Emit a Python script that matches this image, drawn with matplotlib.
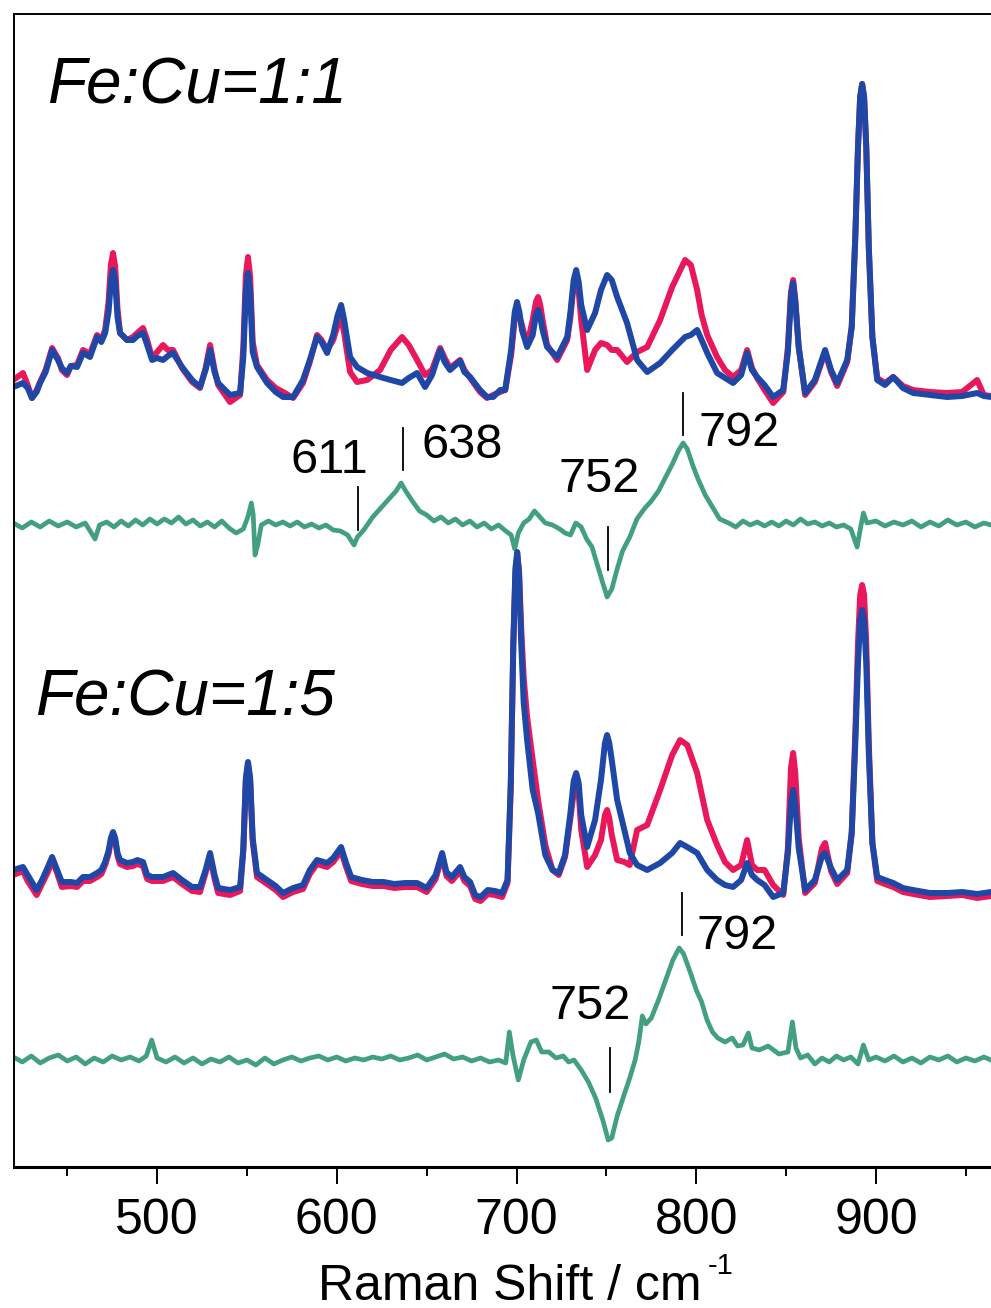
import matplotlib
matplotlib.use("Agg")
import matplotlib.pyplot as plt

plt.rcParams["font.family"] = ["Liberation Sans", "DejaVu Sans"]

# Fe:Cu = 1:1, Raman shift (cm-1) and intensities (a.u., above local baseline)
shift_11 = [420, 425.4, 428, 430.4, 433, 434.9, 438, 441.6, 443.5, 444.9, 447, 449.9, 452, 455.5,
            458.8, 462.7, 466.6, 469, 471.1, 473, 474.3, 475.5, 476.7, 478, 479.4, 483.3, 486.6,
            489, 492.2, 494.5, 497.2, 500, 503.3, 506, 508.9, 513.9, 519.5, 523.9, 527, 529.5,
            532, 534, 540.6, 546.2, 548, 549.4, 550.6, 551.8, 553.2, 555.6, 561.2, 566, 570.1,
            575.7, 581.2, 585, 589, 591.5, 594.6, 598, 600.5, 602.4, 604, 607.4, 611.3, 616.9,
            624.1, 630, 636.3, 640, 644.7, 649.1, 653, 657.5, 660, 663, 668.6, 671, 674.2, 679.7,
            683.6, 687, 690.9, 693.7, 697, 699, 700.3, 701.6, 703, 705.9, 709, 710.8, 712, 713.2,
            714.5, 717, 722.6, 728.2, 730, 731.8, 733.2, 734.6, 736, 739.3, 743.7, 747, 750.4,
            753, 756, 761.5, 767.1, 772.7, 779.9, 786.6, 793.8, 797, 800.5, 803, 806.1, 811.6,
            816, 820.5, 825, 828.3, 831, 833.9, 838, 842.8, 848.4, 851, 852.7, 853.9, 855.1, 857,
            860.6, 866, 871.7, 875, 878.4, 884, 886.5, 888.5, 890, 891.2, 892.3, 893.4, 894.6,
            896, 898, 900.7, 905, 909.6, 915, 920.7, 930, 939.6, 948, 956.3, 960, 964]
blue_11 = [10, 14, 9, -1, 5, 14, 25, 47, 41, 37, 29, 24, 31, 30,
           44, 40, 60, 55, 64, 85, 115, 127, 115, 80, 64, 57, 57,
           61, 64, 52, 37, 39, 37, 41, 44, 30, 17, 10, 27, 47,
           25, 14, 2, 4, 40, 105, 124, 105, 45, 30, 14, 5, 0,
           0, 17, 37, 60, 55, 44, 62, 82, 92, 78, 40, 30, 24,
           20, 17, 14, 19, 24, 10, 22, 47, 35, 27, 36, 25, 20, 7,
           0, 0, 7, 7, 47, 85, 95, 85, 67, 50, 62, 82, 87, 80,
           67, 50, 40, 60, 85, 117, 127, 115, 92, 67, 84, 107, 122,
           117, 100, 74, 37, 25, 34, 47, 60, 62, 67, 57, 44, 24,
           19, 14, 22, 44, 27, 20, 12, 0, 7, 45, 100, 114, 95, 50,
           4, 17, 47, 27, 14, 37, 70, 160, 250, 300, 313, 300, 250,
           150, 60, 17, 12, 20, 9, 4, 2, 0, 1, 4, 1, 0]
red_11 = [17, 24, 12, -1, 7, 15, 27, 49, 43, 39, 27, 22, 31, 32,
          47, 43, 62, 57, 67, 95, 132, 144, 130, 88, 64, 57, 60,
          64, 69, 57, 39, 45, 52, 47, 47, 29, 15, 9, 29, 52,
          27, 12, -5, 2, 50, 122, 140, 120, 55, 32, 17, 9, 5,
          -1, 14, 35, 62, 57, 47, 57, 72, 79, 65, 25, 15, 17,
          27, 47, 60, 52, 37, 22, 27, 49, 39, 29, 37, 27, 19, 5,
          -1, 2, 5, 7, 42, 78, 87, 80, 72, 52, 77, 95, 100, 92,
          77, 52, 37, 57, 80, 112, 122, 105, 77, 27, 47, 54, 52,
          47, 47, 35, 45, 50, 77, 110, 137, 132, 107, 82, 62, 40,
          27, 20, 27, 47, 29, 19, 7, -6, 5, 50, 105, 117, 98, 50,
          2, 15, 45, 25, 11, 35, 70, 160, 250, 300, 313, 300, 250,
          150, 60, 19, 14, 20, 11, 7, 5, 4, 5, 17, 2, 1]

# difference spectrum, Fe:Cu = 1:1
shift_d11 = [420, 425, 430, 435, 440, 445, 450, 455, 460, 465.5, 468, 472, 476, 480, 484, 488, 492,
             496, 500, 504, 508, 512, 516, 520, 524, 528, 532, 536, 540, 544, 548, 550.5, 552.5,
             553.5, 554.5, 556, 558, 562, 566, 570, 574, 578, 582, 586, 590, 594, 598, 602, 606,
             609.6, 611.5, 615, 620, 625, 630, 633, 635.8, 638, 642, 646, 650, 654, 658, 662, 666,
             670, 674, 678, 682, 686, 690, 694, 697, 699, 701, 704, 707, 710, 713, 716, 720, 724,
             727, 730, 733, 736, 739, 742, 745, 748, 750.4, 753, 756, 759, 763, 767, 771, 775, 779,
             783, 787, 790, 792.7, 795, 798, 801, 805, 809, 813, 818, 822, 826, 830, 834, 838, 842,
             846, 850, 854, 858, 862, 866, 870, 874, 878, 882, 886, 889.5, 891.5, 893, 895, 900,
             905, 910, 915, 920, 925, 930, 935, 940, 945, 950, 955, 960, 964]
diff_11 = [2, -3, 3, -2, 4, -1, 3, -2, 2, -14, 0, 3, -2, 4, -1, 5, 0,
           6, 1, 6, 2, 8, 1, 5, -1, 3, -2, 4, -3, -8, -4, 8, 22,
           10, -30, -20, 0, 4, 0, 3, -1, 3, -2, 1, -3, 0, -5, -6, -10,
           -20, -12, -5, 8, 18, 28, 34, 42, 35, 24, 14, 10, 4, 8, 2, 6,
           0, 4, -2, 2, -4, 0, -6, -10, -24, -8, 2, 6, 14, 8, 2, 0, -4,
           -8, -10, 2, -2, -14, -22, -40, -58, -72, -64, -44, -26, -12, 6, 16, 24, 34,
           48, 62, 74, 82, 76, 60, 46, 30, 18, 6, 2, -2, 4, 0, 3, -1, 3,
           -1, 4, 0, 6, 1, 3, -1, 2, -2, 0, -4, -22, -2, 12, 2, 4,
           -1, 3, 0, 4, -2, 3, -1, 5, 0, 3, -2, 2, 0]

# Fe:Cu = 1:5
shift_15 = [420, 425.4, 428, 433, 436, 439, 441.6, 444, 447, 452, 455.5, 458.8, 462.7, 466.6, 469,
            471.1, 473, 474.3, 475.5, 476.7, 478, 479.4, 483.3, 486.6, 489, 492.2, 494.5, 497.2,
            503.3, 508.9, 513.9, 519.5, 523.9, 527, 529.5, 532, 534, 540.6, 546.2, 548, 549.4,
            550.6, 551.8, 553.2, 555.6, 561.2, 566, 570.1, 575.7, 581.2, 585, 589, 594.6, 598,
            602.4, 605, 608, 614, 620, 626, 632, 638, 644.7, 650, 655, 658.6, 661, 664, 668.6, 671,
            674.2, 677, 680, 684, 688, 692, 695, 696.8, 698.2, 699.4, 700.4, 701.4, 702.6, 704,
            705.9, 709, 712, 716, 720, 723.5, 727, 730, 731.8, 733.2, 734.6, 736, 739.3, 743.7, 747,
            749.2, 750.4, 751.6, 753, 756, 760, 763, 767.1, 772.7, 779.9, 786.6, 791, 795, 800.5,
            806.1, 811.6, 816, 820.5, 825, 828.3, 831, 833.9, 838, 842.8, 848.4, 851, 852.7, 853.9,
            855.1, 857, 860.6, 866, 870, 871.7, 875, 878.4, 884, 886.5, 888.5, 890, 891.2, 892.3,
            893.4, 894.6, 896, 898, 900.7, 905, 909.6, 915, 920.7, 930, 939.6, 948, 956.3, 960, 964]
blue_15 = [23, 26, 18, 3, 13, 25, 36, 25, 11, 11, 10, 16, 16, 20, 23,
           31, 42, 55, 61, 55, 40, 33, 30, 31, 33, 31, 18, 16,
           16, 20, 13, 6, 6, 23, 40, 18, 5, 3, 6, 45, 115,
           131, 115, 55, 20, 13, 7, 0, 5, 8, 23, 33, 30, 35,
           46, 31, 16, 13, 11, 11, 9, 10, 10, 5, 18, 40, 21, 16, 26, 16,
           11, -2, -4, 3, 2, 0, 13, 110, 250, 325, 341, 320, 250, 190,
           153, 103, 80, 38, 23, 20, 38, 80, 112, 120, 110, 78, 46, 73, 113,
           150, 158, 150, 133, 93, 63, 40, 28, 23, 30, 40, 50, 46, 40,
           23, 13, 8, 6, 13, 30, 18, 13, 8, -4, 0, 40, 90, 103,
           88, 45, 3, 13, 37, 40, 25, 13, 23, 60, 150, 230, 272, 283,
           272, 230, 140, 50, 16, 13, 10, 5, 3, 0, 0, 1, -1, 0, 1]
red_15 = [18, 22, 12, -2, 9, 20, 32, 22, 6, 7, 6, 12, 12, 16, 19,
          28, 39, 52, 58, 52, 37, 29, 26, 27, 29, 27, 14, 12,
          12, 16, 9, 2, 1, 20, 36, 14, 0, -2, 2, 42, 112,
          129, 112, 52, 16, 9, 3, -4, 1, 4, 19, 29, 26, 31,
          42, 27, 12, 9, 7, 7, 5, 6, 6, 1, 14, 37, 17, 12, 22, 12,
          7, -6, -8, -1, -2, -4, 10, 105, 245, 320, 338, 322, 265, 215,
          176, 133, 93, 48, 23, 18, 36, 75, 100, 113, 100, 63, 26, 38, 53,
          78, 83, 75, 58, 33, 31, 28, 63, 68, 103, 138, 153, 148, 120,
          73, 48, 31, 23, 28, 53, 28, 23, 23, 8, -2, 45, 125, 140,
          120, 55, 0, 10, 45, 50, 22, 9, 20, 60, 160, 250, 298, 308,
          298, 250, 150, 50, 12, 9, 6, 1, -1, -4, -3, -2, -5, -4, -3]

# difference spectrum, Fe:Cu = 1:5
shift_d15 = [420, 425, 430, 435, 440, 445, 450, 455, 460, 465, 470, 475, 480, 485, 490, 494, 497,
             500, 505, 510, 515, 520, 525, 530, 535, 540, 545, 550, 555, 560, 565, 570, 575, 580,
             585, 590, 595, 600, 605, 610, 615, 620, 625, 630, 635, 640, 645, 650, 655, 660, 665,
             670, 675, 680, 685, 690, 694, 696, 698, 701, 704, 708, 711, 714, 718, 722, 726, 729,
             732, 736, 740, 744, 748, 751, 753, 756, 760, 763, 766, 768, 770, 772, 775, 779, 783,
             787, 790.5, 793, 797, 800, 803, 806, 809, 812, 816, 820, 823, 826, 829, 831, 835, 840,
             846, 851, 853.5, 855.5, 858, 862, 866, 870, 874, 878, 882, 886, 890, 893, 896, 900,
             905, 910, 915, 920, 925, 930, 935, 940, 945, 950, 955, 960, 964]
diff_15 = [3, -2, 4, -3, 2, 5, -1, 3, -4, 2, -2, 4, 0, 3, -1, 4, 20,
           2, -2, 3, -3, 2, -4, 1, -2, 3, -3, 0, -5, 2, -4, 0, 3, -1,
           2, 4, 0, 3, -1, 2, 0, 3, 1, 4, 0, 2, 5, 0, 3, 6, 1,
           3, -1, 2, -2, 0, -3, 28, 5, -20, 0, 18, 20, 8, 8, 2, 4, -2,
           0, -10, -22, -38, -60, -80, -78, -56, -34, -18, 0, 18, 44, 36, 42, 60, 80,
           100, 112, 106, 86, 70, 58, 40, 28, 22, 18, 22, 14, 15, 27, 12, 10, 14,
           6, 8, 38, 12, 2, 5, -4, 2, -2, 4, 0, 3, -4, 15, 0, 3,
           -1, 4, -2, 2, -3, 3, 0, 4, -2, 2, -1, 3, 0]

fig = plt.figure(figsize=(9.91, 13.08), dpi=100)
ax = fig.add_axes([14 / 991, 1 - 1167 / 1308, 1 - 14 / 991, 1153 / 1308])

red = "#e8185a"
blue = "#1f47a6"
green = "#43a07f"

off_11, off_d11, off_15, off_d15 = 770, 642, 274, 107

line_kw = dict(lw=4.3, solid_joinstyle="round", solid_capstyle="round")
ax.plot(shift_11, [v + off_11 for v in red_11], color=red, **line_kw)
ax.plot(shift_11, [v + off_11 for v in blue_11], color=blue, **line_kw)
ax.plot(shift_d11, [v + off_d11 for v in diff_11], color=green, lw=3.4, solid_joinstyle="round")
ax.plot(shift_15, [v + off_15 for v in red_15], color=red, **line_kw)
ax.plot(shift_15, [v + off_15 for v in blue_15], color=blue, **line_kw)
ax.plot(shift_d15, [v + off_d15 for v in diff_15], color=green, lw=3.4, solid_joinstyle="round")

# peak markers: (position, line bottom, line top, label x, label baseline)
marks = [(611.9, 637, 680, 596, 694),
         (636.9, 697, 739, 670, 709),
         (751, 597, 640, 746, 675),
         (792.7, 732, 774, 824, 721),
         (752, 75, 119, 741, 148),
         (792.2, 232, 274, 823, 218)]
labels = ["611", "638", "752", "792", "752", "792"]
for (x, y0, y1, tx, ty), lab in zip(marks, labels):
    ax.plot([x, x], [y0, y1], color="black", lw=1.3)
    ax.text(tx, ty, lab, ha="center", va="baseline", fontsize=35)

ax.text(439, 1064, "Fe:Cu=1:1", fontsize=46, style="italic", va="baseline")
ax.text(432, 451, "Fe:Cu=1:5", fontsize=46, style="italic", va="baseline")

ax.set_xlim(420.4, 964)
ax.set_ylim(0, 1153)
ax.set_xticks([500, 600, 700, 800, 900])
ax.set_xticks([450, 550, 650, 750, 850, 950], minor=True)
ax.set_yticks([])
ax.tick_params(axis="x", which="major", direction="out", length=12, width=1.4,
               labelsize=36, pad=10)
ax.tick_params(axis="x", which="minor", direction="out", length=6.5, width=1.4)
ax.spines["right"].set_visible(False)
ax.spines["left"].set_linewidth(1.4)
ax.spines["top"].set_linewidth(1.4)
ax.spines["bottom"].set_linewidth(2.2)

# axis title with a small raised "-1"
fig.text(318 / 991, 1 - 1300 / 1308, "Raman Shift / cm", fontsize=36, va="baseline")
fig.text(708 / 991, 1 - 1274 / 1308, "-1", fontsize=21, va="baseline")

fig.savefig("out.png", dpi=100)
